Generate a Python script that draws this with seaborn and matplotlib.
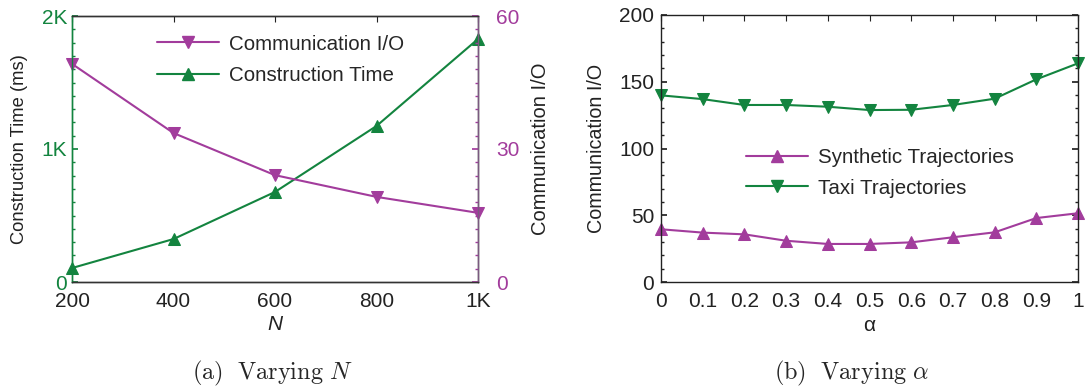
import numpy as np
import pandas as pd
import matplotlib
matplotlib.use("Agg")
import matplotlib.pyplot as plt
from matplotlib.ticker import MultipleLocator, FixedLocator
from matplotlib.lines import Line2D
import seaborn as sns

# Panel (a): varying N
n_values = [200, 400, 600, 800, 1000]
n_tick_labels = ["200", "400", "600", "800", "1K"]
construction_time = [105, 323, 677, 1173, 1827]
communication_io = [49.2, 33.6, 24.1, 19.2, 15.6]

# Panel (b): varying alpha
alpha_values = [0.0, 0.1, 0.2, 0.3, 0.4, 0.5, 0.6, 0.7, 0.8, 0.9, 1.0]
alpha_tick_labels = ["0", "0.1", "0.2", "0.3", "0.4", "0.5", "0.6", "0.7", "0.8", "0.9", "1"]
synthetic_io = [39.5, 37.0, 35.7, 30.9, 28.5, 28.5, 29.7, 33.5, 37.2, 47.9, 51.5]
taxi_io = [139.8, 137.0, 132.6, 132.6, 131.3, 128.8, 129.0, 132.6, 137.3, 151.8, 163.8]

GREEN = "#13843f"
PURPLE = "#a23c9c"

sns.set_theme(style="white")
plt.rcParams["font.family"] = ["Liberation Sans", "DejaVu Sans"]
plt.rcParams["mathtext.fontset"] = "cm"

fig = plt.figure(figsize=(10.86, 3.89), dpi=100)
W, H = 1086, 389


def box(x0, y0, x1, y1):
    return [x0 / W, 1 - y1 / H, (x1 - x0) / W, (y1 - y0) / H]


tick_fs = 15
xlabel_fs = 15
legend_fs = 14.8
caption_fs = 17.5

# ---------- panel (a) ----------
ax1 = fig.add_axes(box(72, 16, 478, 282))
ax2 = ax1.twinx()

df_n = pd.DataFrame({"N": n_values, "time": construction_time, "io": communication_io})
sns.lineplot(data=df_n, x="N", y="time", ax=ax1, color=GREEN, marker="^",
             markersize=8, markeredgecolor=GREEN, linewidth=1.5, clip_on=False)
sns.lineplot(data=df_n, x="N", y="io", ax=ax2, color=PURPLE, marker="v",
             markersize=8, markeredgecolor=PURPLE, linewidth=1.5, clip_on=False)

ax1.set_xlim(200, 1000)
ax1.set_ylim(0, 2000)
ax2.set_ylim(0, 60)
ax1.xaxis.set_major_locator(FixedLocator(n_values))
ax1.set_xticklabels(n_tick_labels)
ax1.set_yticks([0, 1000, 2000])
ax1.set_yticklabels(["0", "1K", "2K"])
ax1.yaxis.set_minor_locator(MultipleLocator(100))
ax2.set_yticks([0, 30, 60])
ax2.yaxis.set_minor_locator(MultipleLocator(3))

ax1.tick_params(axis="x", direction="in", top=True, length=4, width=0.8,
                labelsize=tick_fs, colors="#222222", pad=7)
ax1.tick_params(axis="y", which="both", direction="in", left=True, right=False,
                colors=GREEN, labelsize=tick_fs, pad=3.5)
ax1.tick_params(axis="y", which="major", length=4)
ax1.tick_params(axis="y", which="minor", length=2.5)
ax2.tick_params(axis="y", which="both", direction="in", right=True, left=False,
                colors=PURPLE, labelsize=tick_fs, pad=13)
ax2.tick_params(axis="y", which="major", length=4)
ax2.tick_params(axis="y", which="minor", length=2.5)

for a in (ax1, ax2):
    for s in a.spines.values():
        s.set_linewidth(1.0)
        s.set_color("#333333")
ax1.spines["left"].set_color(GREEN)
ax2.spines["left"].set_color(GREEN)
ax2.spines["right"].set_color("#7a5a80")

ax1.set_xlabel("N", fontsize=xlabel_fs, fontstyle="italic", labelpad=3, color="#222222")
ax1.set_ylabel("Construction Time (ms)", fontsize=13.2, color="#222222", labelpad=10)
ax2.set_ylabel("Communication I/O", fontsize=14.5, color="#222222", labelpad=8)

handles_a = [
    Line2D([], [], color=PURPLE, marker="v", markersize=8, linewidth=1.5),
    Line2D([], [], color=GREEN, marker="^", markersize=8, linewidth=1.5),
]
ax1.legend(handles_a, ["Communication I/O", "Construction Time"], frameon=False,
           fontsize=legend_fs, loc="upper left", bbox_to_anchor=(0.165, 1.0),
           handlelength=3.0, handletextpad=0.5, labelspacing=0.6)

ca = box(72, 0, 478, 0)
fig.text(272 / W, 1 - 373 / H,
         r"$\mathrm{(a)\ \ Varying\ }N$", ha="center", va="center", fontsize=caption_fs)

# ---------- panel (b) ----------
ax3 = fig.add_axes(box(661, 15, 1078, 282))
df_a = pd.DataFrame({
    "alpha": alpha_values * 2,
    "io": synthetic_io + taxi_io,
    "dataset": ["Synthetic Trajectories"] * len(alpha_values) + ["Taxi Trajectories"] * len(alpha_values),
})
sns.lineplot(data=df_a, x="alpha", y="io", hue="dataset", style="dataset",
             markers={"Synthetic Trajectories": "^", "Taxi Trajectories": "v"},
             dashes=False, palette={"Synthetic Trajectories": PURPLE, "Taxi Trajectories": GREEN},
             markersize=8, linewidth=1.5, ax=ax3, clip_on=False, legend=False)
for ln in ax3.lines:
    ln.set_markeredgecolor(ln.get_color())

ax3.set_xlim(0, 1)
ax3.set_ylim(0, 200)
ax3.xaxis.set_major_locator(FixedLocator(alpha_values))
ax3.set_xticklabels(alpha_tick_labels)
ax3.set_yticks([0, 50, 100, 150, 200])
ax3.yaxis.set_minor_locator(MultipleLocator(10))
ax3.tick_params(axis="x", direction="in", top=True, length=4, width=0.8,
                labelsize=tick_fs, colors="#222222", pad=7)
ax3.tick_params(axis="y", which="both", direction="in", left=True, right=True,
                labelsize=tick_fs, colors="#222222", pad=5)
ax3.tick_params(axis="y", which="major", length=4)
ax3.tick_params(axis="y", which="minor", length=2.5)
for s in ax3.spines.values():
    s.set_linewidth(1.0)
    s.set_color("#222222")

ax3.set_xlabel("α", fontsize=xlabel_fs, labelpad=4, color="#222222")
ax3.set_ylabel("Communication I/O", fontsize=14.2, color="#222222", labelpad=9)

handles_b = [
    Line2D([], [], color=PURPLE, marker="^", markersize=8, linewidth=1.5),
    Line2D([], [], color=GREEN, marker="v", markersize=8, linewidth=1.5),
]
ax3.legend(handles_b, ["Synthetic Trajectories", "Taxi Trajectories"], frameon=False,
           fontsize=legend_fs, loc="upper left", bbox_to_anchor=(0.16, 0.57),
           handlelength=3.0, handletextpad=0.5, labelspacing=0.55)

fig.text(852 / W, 1 - 373 / H,
         r"$\mathrm{(b)\ \ Varying\ }\alpha$", ha="center", va="center", fontsize=caption_fs)

fig.savefig("out.png", dpi=100)
